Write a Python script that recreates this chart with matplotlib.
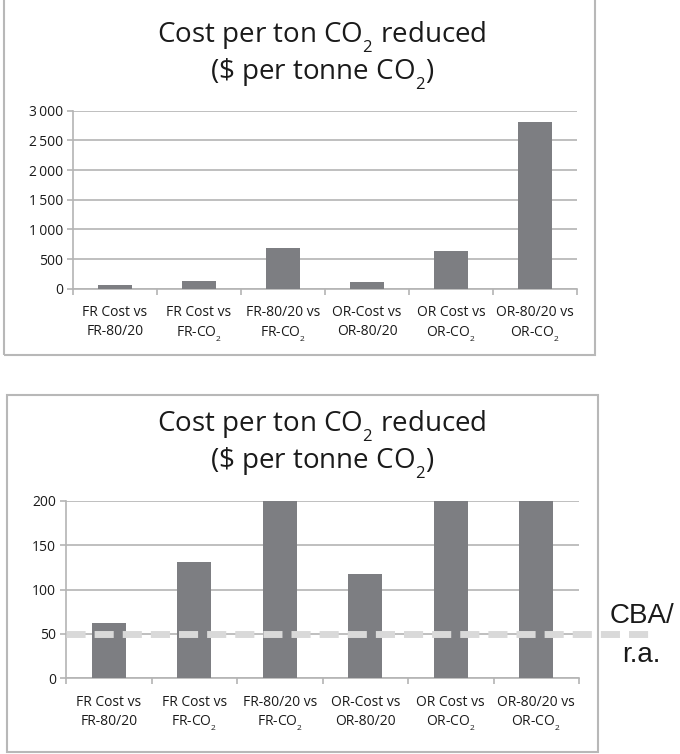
import matplotlib.pyplot as plt
from matplotlib import _mathtext
from matplotlib.patches import Rectangle
from matplotlib.ticker import FuncFormatter, FixedLocator
import matplotlib.transforms as mtransforms

# Cost per ton CO2 reduced, $ per tonne CO2
categories = ["FR Cost vs\nFR-80/20", "FR Cost vs\nFR-CO$_2$", "FR-80/20 vs\nFR-CO$_2$",
              "OR-Cost vs\nOR-80/20", "OR Cost vs\nOR-CO$_2$", "OR-80/20 vs\nOR-CO$_2$"]
cost_per_ton = [62, 131, 680, 118, 640, 2810]
cba_reference = 50

plt.rcParams["font.family"] = ["Open Sans", "DejaVu Sans"]
plt.rcParams["mathtext.fontset"] = "custom"
plt.rcParams["mathtext.rm"] = "Open Sans"
plt.rcParams["mathtext.it"] = "Open Sans"
plt.rcParams["mathtext.default"] = "rm"
# small, low-set subscripts (CO2)
_mathtext.SHRINK_FACTOR = 0.6
_mathtext.FontConstantsBase.sub1 = 0.67

W, H = 680, 754
fig = plt.figure(figsize=(W / 100, H / 100), dpi=100)
fig.patch.set_facecolor("white")

BAR = "#7d7e82"
GRID = "#b4b4b4"
FRAME = "#b8b8b8"


def px_axes(left, top, right, bottom):
    return fig.add_axes([left / W, 1 - bottom / H, (right - left) / W, (bottom - top) / H])


def panel(left, top, right, bottom):
    fig.patches.append(Rectangle((left / W, 1 - bottom / H), (right - left) / W, (bottom - top) / H,
                                 transform=fig.transFigure, fill=False, edgecolor=FRAME, lw=1.5))


def title(y):
    fig.text(322 / W, 1 - y / H, "Cost per ton CO$_2$ reduced", ha="center", va="center",
             fontsize=20, color="#1a1a1a")
    fig.text(322 / W, 1 - (y + 37) / H, r"(\$ per tonne CO$_2$)", ha="center", va="center",
             fontsize=20, color="#1a1a1a")


def style(ax, ymax, step, fmt):
    x = list(range(len(categories)))
    ax.bar(x, cost_per_ton, width=0.4, color=BAR, zorder=3)
    ax.set_xlim(-0.5, len(categories) - 0.5)
    ax.set_ylim(0, ymax)
    ax.set_yticks(range(0, ymax + 1, step))
    ax.yaxis.set_major_formatter(FuncFormatter(fmt))
    ax.set_xticks(x)
    ax.set_xticklabels(categories, fontsize=10, linespacing=1.35, color="#1a1a1a")
    ax.xaxis.set_minor_locator(FixedLocator([i - 0.5 for i in range(len(categories) + 1)]))
    ax.tick_params(axis="x", which="major", length=0, pad=12)
    ax.tick_params(axis="x", which="minor", length=4, color=GRID, width=1.2)
    ax.tick_params(axis="y", length=4, color=GRID, width=1.2, labelsize=10,
                   labelcolor="#1a1a1a", pad=3)
    ax.grid(axis="y", color=GRID, lw=1.2, zorder=0)
    for side in ("top", "right"):
        ax.spines[side].set_visible(False)
    for side in ("left", "bottom"):
        ax.spines[side].set_color(GRID)
        ax.spines[side].set_linewidth(1.2)
    ax.set_facecolor("none")


# top panel: full range
panel(4, -10, 595, 355)
title(37)
ax1 = px_axes(73, 110.7, 577, 288.7)
style(ax1, 3000, 500, lambda v, p: f"{int(v):,}".replace(",", "\u2009"))

# bottom panel: zoomed to 200 with reference line
panel(7, 395, 598, 752)
title(426)
ax2 = px_axes(66, 501, 579, 678)
style(ax2, 200, 50, lambda v, p: f"{int(v)}")

trans = mtransforms.blended_transform_factory(ax2.transAxes, ax2.transData)
ax2.plot([0, 1.134], [cba_reference, cba_reference], transform=trans, color="#d9d9d9",
         lw=5, dashes=(2.75, 1.3), dash_capstyle="butt", clip_on=False, zorder=4)
fig.text(642 / W, 1 - 623 / H, "CBA/", ha="center", va="baseline", fontsize=20,
         family="Liberation Sans", color="#1a1a1a")
fig.text(641 / W, 1 - 662 / H, "r.a.", ha="center", va="baseline", fontsize=20,
         family="Liberation Sans", color="#1a1a1a")

fig.savefig("out.png", dpi=100, facecolor="white")
